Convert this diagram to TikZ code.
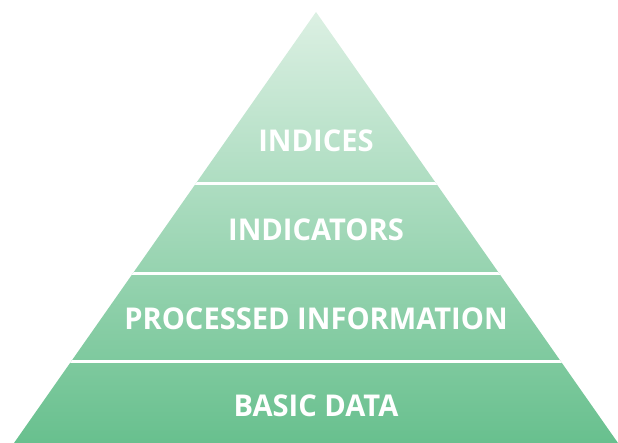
\documentclass[tikz,border=0pt]{standalone}
\usepackage{fontspec}
\setmainfont[FakeStretch=0.97]{Open Sans}
\definecolor{gtop}{HTML}{DCF0E3}
\definecolor{gmid}{HTML}{92CFAC}
\definecolor{gbot}{HTML}{68C08E}
\tikzset{
  lbl/.style={text=white, font=\fontsize{30}{30}\selectfont\bfseries, anchor=center, inner sep=0pt},
  sep/.style={white, line width=3pt}
}
\begin{document}
\begin{tikzpicture}[x=1pt,y=-1pt]
\useasboundingbox (0,0) rectangle (618,443);
\coordinate (apex) at (316,12);
\coordinate (bl) at (14,443);
\coordinate (br) at (618,443);
\shade[top color=gtop, middle color=gmid, bottom color=gbot] (apex) -- (bl) -- (br) -- cycle;
\coordinate (s1l) at (150,184); \coordinate (s1r) at (480,184);
\coordinate (s2l) at (100,274); \coordinate (s2r) at (540,274);
\coordinate (s3l) at (40,361); \coordinate (s3r) at (600,361);
\begin{scope}
\clip (apex) -- (bl) -- (br) -- cycle;
\draw[sep] (s1l) -- (s1r);
\draw[sep] (s2l) -- (s2r);
\draw[sep] (s3l) -- (s3r);
\end{scope}
\node[lbl] (t1) at (316,141) {INDICES};
\node[lbl] (t2) at (316,230) {INDICATORS};
\node[lbl] (t3) at (316,318.5) {PROCESSED INFORMATION};
\node[lbl] (t4) at (316,406) {BASIC DATA};
\end{tikzpicture}
\end{document}
